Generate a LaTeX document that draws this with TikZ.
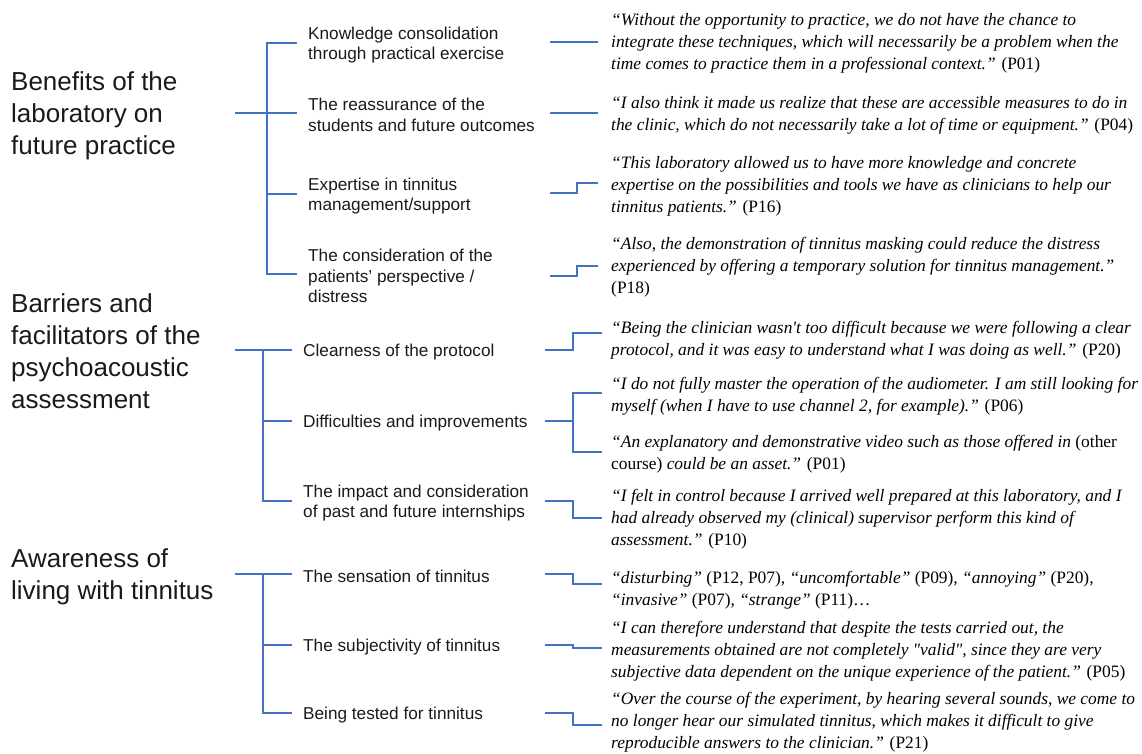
\documentclass[tikz,border=0pt]{standalone}
\usepackage{fontspec}
\setmainfont{Liberation Serif}[Ligatures=TeXOff]
\newfontfamily\sansf{Liberation Sans}[Ligatures=TeXOff]
\definecolor{lnblue}{HTML}{4472C4}
\definecolor{txt}{HTML}{1A1A1A}
\newcommand\myup[1]{\textup{#1}}
\begin{document}
\begin{tikzpicture}[x=1pt,y=-1pt,
  conn/.style={draw=lnblue, line width=2pt},
  cat/.style={anchor=west, align=left, inner sep=0pt, text=txt, font=\sansf\fontsize{26}{32}\selectfont},
  sub/.style={anchor=west, align=left, inner sep=0pt, text=txt, font=\sansf\fontsize{17.2}{20.5}\selectfont},
  quote/.style={anchor=west, align=left, inner sep=0pt, text=black, font=\fontsize{17.4}{22}\selectfont\itshape}]
\useasboundingbox (0,0) rectangle (1142,753);

% categories
\node[cat] (c1) at (11,116) {Benefits of the\\laboratory on\\future practice};
\node[cat] (c2) at (11,351.5) {Barriers and\\facilitators of the\\psychoacoustic\\assessment};
\node[cat] (c3) at (11,577) {Awareness of\\living with tinnitus};

% subcategories
\node[sub] (s1) at (308,45) {Knowledge consolidation\\through practical exercise};
\node[sub] (s2) at (308,115) {The reassurance of the\\students and future outcomes};
\node[sub] (s3) at (308,196) {Expertise in tinnitus\\management/support};
\node[sub] (s4) at (308,276) {The consideration of the\\patients’ perspective /\\distress};
\node[sub] (s5) at (303,352) {Clearness of the protocol};
\node[sub] (s6) at (303,423) {Difficulties and improvements};
\node[sub] (s7) at (303,503) {The impact and consideration\\of past and future internships};
\node[sub] (s8) at (303,576) {The sensation of tinnitus};
\node[sub] (s9) at (303,647) {The subjectivity of tinnitus};
\node[sub] (s10) at (303,715) {Being tested for tinnitus};

% quotes
\node[quote] (q1) at (611,43) {“Without the opportunity to practice, we do not have the chance to\\integrate these techniques, which will necessarily be a problem when the\\time comes to practice them in a professional context.” \myup{(P01)}};
\node[quote] (q2) at (611,115) {“I also think it made us realize that these are accessible measures to do in\\the clinic, which do not necessarily take a lot of time or equipment.” \myup{(P04)}};
\node[quote] (q3) at (611,186) {“This laboratory allowed us to have more knowledge and concrete\\expertise on the possibilities and tools we have as clinicians to help our\\tinnitus patients.” \myup{(P16)}};
\node[quote] (q4) at (611,267) {“Also, the demonstration of tinnitus masking could reduce the distress\\experienced by offering a temporary solution for tinnitus management.”\\\myup{(P18)}};
\node[quote] (q5) at (611,340) {“Being the clinician wasn't too difficult because we were following a clear\\protocol, and it was easy to understand what I was doing as well.” \myup{(P20)}};
\node[quote] (q6) at (611,396) {“I do not fully master the operation of the audiometer. I am still looking for\\myself (when I have to use channel 2, for example).” \myup{(P06)}};
\node[quote] (q7) at (611,454) {“An explanatory and demonstrative video such as those offered in \myup{(other}\\\myup{course)} could be an asset.” \myup{(P01)}};
\node[quote] (q8) at (611,519) {“I felt in control because I arrived well prepared at this laboratory, and I\\had already observed my (clinical) supervisor perform this kind of\\assessment.” \myup{(P10)}};
\node[quote] (q9) at (611,590) {“disturbing” \myup{(P12, P07)}, “uncomfortable” \myup{(P09)}, “annoying” \myup{(P20)},\\“invasive” \myup{(P07)}, “strange” \myup{(P11)…}};
\node[quote] (q10) at (611,651) {“I can therefore understand that despite the tests carried out, the\\measurements obtained are not completely "valid", since they are very\\subjective data dependent on the unique experience of the patient.” \myup{(P05)}};
\node[quote] (q11) at (611,722) {“Over the course of the experiment, by hearing several sounds, we come to\\no longer hear our simulated tinnitus, which makes it difficult to give\\reproducible answers to the clinician.” \myup{(P21)}};

% branch end points (just left of each subcategory)
\foreach \s in {s1,s2,s3,s4,s5,s6,s7,s8,s9,s10}
  \coordinate (t\s) at ([shift={(-11,-2)}]\s.west);

% left brackets
\coordinate (k1) at (235,113); \coordinate (v1) at (267,113);
\draw[conn] (ts1) -- (ts1 -| v1) -- (ts4 -| v1) -- (ts4);
\draw[conn] (k1) -- (v1);
\draw[conn] (ts2 -| v1) -- (ts2);
\draw[conn] (ts3 -| v1) -- (ts3);

\coordinate (k2) at (235,350); \coordinate (v2) at (263,350);
\draw[conn] (k2) -- (ts5);
\draw[conn] (v2) -- (ts7 -| v2) -- (ts7);
\draw[conn] (ts6 -| v2) -- (ts6);

\coordinate (k3) at (235,574); \coordinate (v3) at (263,574);
\draw[conn] (k3) -- (ts8);
\draw[conn] (v3) -- (ts10 -| v3) -- (ts10);
\draw[conn] (ts9 -| v3) -- (ts9);

% right connectors
\coordinate (a1) at (550,42);  \coordinate (b1) at (598,42);
\coordinate (a2) at (550,113); \coordinate (b2) at (598,113);
\coordinate (a3) at (550,193); \coordinate (b3) at (598,183);
\coordinate (a4) at (550,276); \coordinate (b4) at (598,266);
\coordinate (a5) at (545,350); \coordinate (b5) at (602,333);
\coordinate (a6) at (545,421); \coordinate (b6t) at (602,393); \coordinate (b6b) at (602,452);
\coordinate (a7) at (545,501); \coordinate (b7) at (602,518);
\coordinate (a8) at (545,574); \coordinate (b8) at (602,584);
\coordinate (a9) at (545,645); \coordinate (b9) at (602,648);
\coordinate (a10) at (545,713); \coordinate (b10) at (602,725);

\draw[conn] (a1) -- (b1);
\draw[conn] (a2) -- (b2);
\draw[conn] (a3) -- ++(27,0) |- (b3);
\draw[conn] (a4) -- ++(27,0) |- (b4);
\draw[conn] (a5) -- ++(28,0) |- (b5);
\draw[conn] (a6) -- ++(28,0);
\draw[conn] (b6t) -- ++(-29,0) |- (b6b);
\draw[conn] (a7) -- ++(28,0) |- (b7);
\draw[conn] (a8) -- ++(28,0) |- (b8);
\draw[conn] (a9) -- ++(28,0) |- (b9);
\draw[conn] (a10) -- ++(28,0) |- (b10);
\end{tikzpicture}
\end{document}
